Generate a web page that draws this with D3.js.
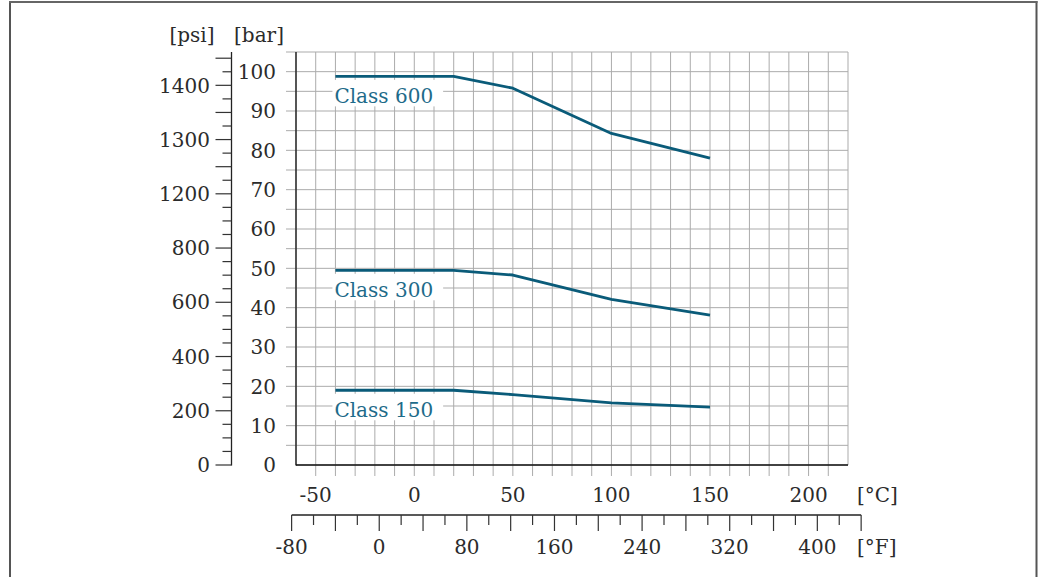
<!DOCTYPE html>
<html>
<head>
<meta charset="utf-8">
<script src="https://cdn.jsdelivr.net/npm/d3@7"></script>
<style>
  html, body { margin: 0; padding: 0; background: #fff; }
  svg { display: block; }
  text { font-family: "DejaVu Serif", serif; }
</style>
</head>
<body>
<svg id="chart" width="1038" height="577"></svg>
<script>
// ---- data ----
const tempC = [-40, 20, 50, 100, 150];
const class600 = [98.8, 98.8, 95.8, 84.3, 78.0];
const class300 = [49.5, 49.5, 48.3, 42.1, 38.1];
const class150 = [19.0, 19.0, 17.9, 15.8, 14.7];
const seriesNames = ["Class 600", "Class 300", "Class 150"];

const barTicks = [0, 10, 20, 30, 40, 50, 60, 70, 80, 90, 100];
const psiTickValues = [0, 200, 400, 600, 800, 1000, 1200, 1400];
const psiTickLabels = ["0", "200", "400", "600", "800", "1200", "1300", "1400"];
const psiLongTicks = [0, 200, 400, 600, 800, 1000, 1100, 1200, 1300, 1400, 1500];
const celsiusTicks = [-50, 0, 50, 100, 150, 200];
const fahrenheitTicks = [-80, 0, 80, 160, 240, 320, 400];

// ---- layout ----
const svg = d3.select("#chart");
const x = d3.scaleLinear().domain([-60, 220]).range([296, 848]);
const y = d3.scaleLinear().domain([0, 105]).range([465, 52]);
const PSI_TO_BAR = 0.0689476;
const yPsi = p => y(p * PSI_TO_BAR);
const xF = f => x((f - 32) / 1.8);

const textColor = "#2b2b2b";
const gridColor = "#ababab";
const lineColor = "#0a5b79";
const labelColor = "#1e6b8a";
const fs = 20;

// outer frame
svg.append("line").attr("x1", 10).attr("x2", 10).attr("y1", 1).attr("y2", 577)
  .attr("stroke", "#555").attr("stroke-width", 2);
svg.append("line").attr("x1", 1036.5).attr("x2", 1036.5).attr("y1", 1).attr("y2", 577)
  .attr("stroke", "#555").attr("stroke-width", 2);
svg.append("line").attr("x1", 9).attr("x2", 1037.5).attr("y1", 2).attr("y2", 2)
  .attr("stroke", "#666").attr("stroke-width", 2);

// grid
const g = svg.append("g");
g.selectAll("line.v").data(d3.range(-60, 221, 10)).join("line")
  .attr("x1", d => x(d)).attr("x2", d => x(d)).attr("y1", y(105)).attr("y2", y(0))
  .attr("stroke", gridColor).attr("stroke-width", 1);
g.selectAll("line.h").data(d3.range(0, 106, 5)).join("line")
  .attr("x1", x(-60)).attr("x2", x(220)).attr("y1", d => y(d)).attr("y2", d => y(d))
  .attr("stroke", gridColor).attr("stroke-width", 1);

// bar ticks (left of plot)
g.selectAll("line.bt").data(d3.range(5, 106, 5)).join("line")
  .attr("x1", x(-60) - 10).attr("x2", x(-60)).attr("y1", d => y(d)).attr("y2", d => y(d))
  .attr("stroke", gridColor).attr("stroke-width", 1);
// celsius ticks (below plot)
g.selectAll("line.ct").data(d3.range(-50, 211, 10)).join("line")
  .attr("x1", d => x(d)).attr("x2", d => x(d)).attr("y1", y(0)).attr("y2", y(0) + 11)
  .attr("stroke", gridColor).attr("stroke-width", 1);

// plot frame (left, bottom)
svg.append("line").attr("x1", x(-60)).attr("x2", x(-60)).attr("y1", y(105)).attr("y2", y(0) + 0.5)
  .attr("stroke", "#111").attr("stroke-width", 1.3);
svg.append("line").attr("x1", x(-60)).attr("x2", x(220)).attr("y1", y(0)).attr("y2", y(0))
  .attr("stroke", "#111").attr("stroke-width", 1.3);

// bar labels
svg.selectAll("text.bar").data(barTicks).join("text")
  .attr("x", 276).attr("y", d => y(d)).attr("dy", "0.36em")
  .attr("text-anchor", "end").attr("font-size", fs).attr("fill", textColor)
  .text(d => d);

// psi axis
const psiX = 231.5;
svg.append("line").attr("x1", psiX).attr("x2", psiX).attr("y1", 52).attr("y2", y(0) + 0.5)
  .attr("stroke", "#222").attr("stroke-width", 1.3);
svg.selectAll("line.pt").data(d3.range(0, 1501, 50)).join("line")
  .attr("x1", d => psiLongTicks.includes(d) ? psiX - 16 : psiX - 9)
  .attr("x2", psiX).attr("y1", d => yPsi(d)).attr("y2", d => yPsi(d))
  .attr("stroke", "#333").attr("stroke-width", 1.2);
svg.selectAll("text.psi").data(psiTickValues).join("text")
  .attr("x", 210).attr("y", d => yPsi(d)).attr("dy", "0.36em")
  .attr("text-anchor", "end").attr("font-size", fs).attr("fill", textColor)
  .text((d, i) => psiTickLabels[i]);

// unit labels
svg.append("text").attr("x", 192).attr("y", 42).attr("text-anchor", "middle")
  .attr("font-size", fs).attr("fill", textColor).text("[psi]");
svg.append("text").attr("x", 259).attr("y", 42).attr("text-anchor", "middle")
  .attr("font-size", fs).attr("fill", textColor).text("[bar]");

// celsius labels
svg.selectAll("text.c").data(celsiusTicks).join("text")
  .attr("x", d => x(d)).attr("y", 495).attr("dy", "0.36em")
  .attr("text-anchor", "middle").attr("font-size", fs).attr("fill", textColor)
  .text(d => d);
svg.append("text").attr("x", 857).attr("y", 495).attr("dy", "0.36em")
  .attr("font-size", fs).attr("fill", textColor).text("[°C]");

// fahrenheit axis
const fY = 515;
svg.append("line").attr("x1", xF(-80)).attr("x2", xF(440)).attr("y1", fY).attr("y2", fY)
  .attr("stroke", "#222").attr("stroke-width", 1.3);
svg.selectAll("line.ft").data(d3.range(-80, 441, 20)).join("line")
  .attr("x1", d => xF(d)).attr("x2", d => xF(d))
  .attr("y1", fY).attr("y2", d => (d % 40 === 0) ? fY + 16 : fY + 10)
  .attr("stroke", "#333").attr("stroke-width", 1.2);
svg.selectAll("text.f").data(fahrenheitTicks).join("text")
  .attr("x", d => xF(d)).attr("y", 547).attr("dy", "0.36em")
  .attr("text-anchor", "middle").attr("font-size", fs).attr("fill", textColor)
  .text(d => d);
svg.append("text").attr("x", 857).attr("y", 547).attr("dy", "0.36em")
  .attr("font-size", fs).attr("fill", textColor).text("[°F]");

// series
const series = [class600, class300, class150];
const lineGen = d3.line().x((d, i) => x(tempC[i])).y(d => y(d));
series.forEach((vals, si) => {
  svg.append("path").datum(vals).attr("d", lineGen)
    .attr("fill", "none").attr("stroke", lineColor).attr("stroke-width", 2.8)
    .attr("stroke-linejoin", "round");
  const lx = x(tempC[0]);
  const ly = y(vals[0]);
  const lg = svg.append("g");
  const rect = lg.append("rect").attr("fill", "#fff");
  const t = lg.append("text").attr("x", lx - 1).attr("y", ly + 26.5)
    .attr("font-size", fs).attr("fill", labelColor).text(seriesNames[si]);
  const bb = t.node().getBBox();
  rect.attr("x", bb.x - 2).attr("y", ly + 3.5).attr("width", bb.width + 12).attr("height", 26.5);
});
</script>
</body>
</html>
